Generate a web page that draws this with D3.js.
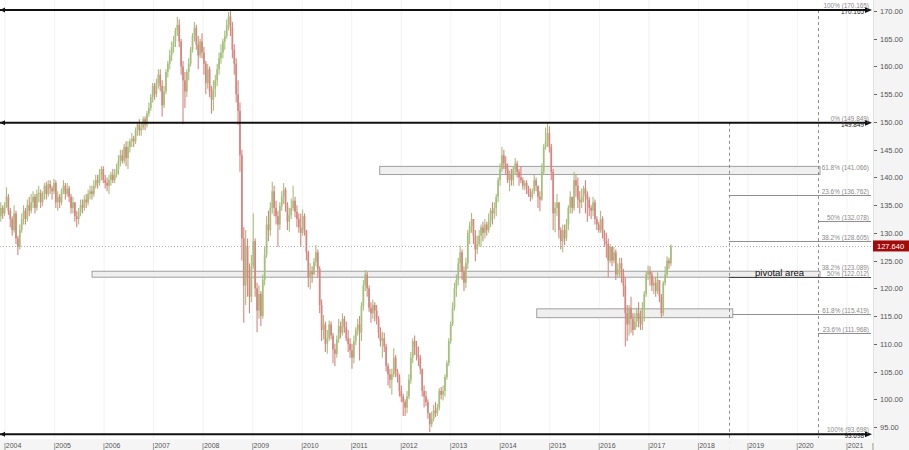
<!DOCTYPE html>
<html><head><meta charset="utf-8">
<script src="https://cdn.jsdelivr.net/npm/d3@7"></script>
<style>body{margin:0;background:#fff}svg{display:block}text{font-family:"Liberation Sans",Arial,sans-serif}</style>
</head><body><svg id="c" width="909" height="450"></svg>
<script>
// ---- DATA (EUR/JPY, two-week bars) ----
const startDate = "2003-12-01";
const periodDays = 14;
const firstOpen = 133.0;
const closes = [
134.5,133.5,134.8,136.5,134.0,132.5,130.5,133.5,129.0,127.5,130.5,132.5,134.0,
132.5,135.0,134.0,135.5,136.5,134.5,137.0,137.2,135.5,137.0,138.5,137.0,138.8,138.0,137.5,139.0,
135.5,136.5,135.5,137.5,138.5,137.0,138.0,136.5,134.5,135.5,133.0,132.5,133.8,135.0,
134.5,136.0,135.5,137.0,137.5,137.0,138.5,139.5,139.0,140.5,141.5,139.5,139.0,
138.5,139.5,140.5,139.5,140.5,141.5,143.0,144.0,143.0,145.5,143.5,145.5,146.5,
147.0,146.5,148.5,149.5,148.5,149.0,150.5,149.5,151.5,152.5,154.5,156.5,155.0,
157.0,158.5,156.5,153.0,155.5,159.0,160.5,162.0,163.5,164.5,166.5,167.5,
164.5,160.0,157.5,155.5,159.0,160.5,163.0,165.5,167.0,164.0,162.0,164.5,162.5,
160.5,157.0,159.5,155.5,154.0,156.0,157.5,159.5,161.5,162.5,164.5,165.5,167.5,169.0,167.0,163.0,160.5,
155.0,152.0,144.0,129.0,120.5,127.5,122.0,118.5,124.0,128.5,120.0,116.0,119.0,115.0,121.5,126.0,131.5,130.5,134.5,137.5,
134.5,133.0,131.5,134.8,136.5,137.8,135.0,132.0,133.2,134.5,135.8,133.8,132.5,131.0,130.0,
133.0,130.5,126.5,122.0,123.0,122.5,124.8,126.5,123.5,117.0,112.5,113.5,110.0,
111.0,113.5,111.5,109.0,108.2,110.8,113.2,112.0,114.5,113.0,111.0,110.0,108.8,
107.5,110.5,112.5,113.5,112.0,116.8,120.5,122.5,120.0,116.5,115.5,117.0,116.0,
114.5,112.0,110.5,111.0,109.5,106.0,104.5,103.5,104.5,107.5,105.0,104.0,101.5,100.5,
99.5,98.5,100.5,103.5,107.5,110.5,109.5,108.0,107.5,105.5,101.5,100.5,99.5,
97.5,95.5,96.5,98.0,97.5,98.5,101.5,100.8,101.5,104.0,106.5,110.5,113.5,
116.5,120.0,121.5,124.5,126.5,123.0,121.0,124.5,130.0,131.2,132.5,129.5,127.0,
128.0,129.5,131.0,130.0,131.5,130.5,132.0,134.0,133.5,134.5,136.5,139.5,141.5,144.0,
142.5,141.5,139.5,140.5,139.5,141.5,142.5,141.0,140.0,139.5,138.5,139.0,138.0,
137.0,136.5,137.5,139.5,138.5,136.5,136.0,141.0,145.5,146.5,148.0,145.5,
141.0,133.5,134.5,135.5,130.5,128.5,130.5,129.0,131.5,134.5,136.5,134.5,139.5,138.5,
136.0,135.5,136.5,138.0,137.0,136.0,134.5,134.0,135.5,132.5,131.5,130.5,132.5,
130.0,128.5,128.0,125.0,127.5,125.0,126.5,122.5,123.5,124.5,122.5,120.5,115.5,
113.5,116.5,114.5,112.5,114.0,115.5,114.5,113.5,116.5,119.0,122.5,123.0,
122.5,120.5,121.0,119.5,121.5,118.5,115.5,121.0,122.5,125.0,124.5,127.64
];
const highs = [
135.5,135.0,135.5,138.2,137.0,134.5,133.0,135.0,134.0,129.5,131.5,133.5,135.0,
134.5,136.0,136.5,137.0,137.5,137.0,137.8,138.5,137.8,137.5,139.0,139.2,139.5,139.5,138.5,139.7,
139.5,137.5,137.0,138.0,139.5,139.0,139.0,138.5,137.0,136.5,135.5,134.0,134.5,136.0,
136.0,136.8,137.0,137.8,138.5,138.5,139.5,140.5,140.5,141.5,142.0,142.0,140.5,
140.0,140.5,141.0,141.5,141.5,142.5,144.0,145.0,145.0,146.0,146.5,146.5,147.0,
148.0,147.5,149.0,150.0,150.5,150.0,151.0,151.0,152.0,153.5,155.0,157.0,157.0,
157.8,159.5,159.5,157.5,156.5,159.5,161.0,163.0,164.5,165.5,167.0,168.9,
168.5,165.0,161.0,159.0,159.5,161.5,163.5,166.0,168.0,167.5,165.5,165.0,166.0,
163.5,161.0,160.5,160.0,156.5,157.5,158.5,160.5,162.5,164.0,165.0,166.5,168.5,169.8,170.0,168.0,164.0,
161.5,157.5,153.5,145.0,131.0,130.5,129.0,124.5,126.0,133.5,129.0,121.0,120.5,119.5,122.5,127.5,133.0,134.0,135.5,139.2,
138.5,135.8,134.0,135.5,137.5,139.0,138.2,135.5,134.5,136.2,138.5,136.5,135.0,133.5,133.5,
134.2,133.5,130.5,126.8,124.5,124.0,125.5,127.8,127.0,124.0,118.0,115.2,114.0,
112.5,114.2,114.0,112.0,110.0,111.5,114.5,114.0,115.5,115.0,114.0,112.5,111.0,
110.0,111.5,113.0,114.5,115.0,117.5,121.5,123.3,123.0,120.5,117.5,118.0,117.5,
117.0,115.0,113.0,112.2,112.0,110.0,106.5,105.5,105.5,109.2,108.0,105.5,104.5,102.5,
101.0,100.0,101.5,104.5,108.5,111.0,111.5,110.5,109.5,108.0,105.5,102.5,101.5,
100.0,97.5,97.8,99.0,99.5,99.2,102.0,102.2,102.5,104.5,107.0,111.0,114.0,
117.5,121.0,122.5,125.5,127.7,127.0,124.0,125.5,130.5,132.0,133.6,132.5,130.5,
129.5,130.5,131.5,132.0,132.5,132.0,133.5,134.5,135.5,135.5,137.0,140.0,142.5,145.5,
145.0,143.8,142.5,141.2,141.5,142.0,143.5,143.0,141.5,142.0,140.0,139.5,139.5,
138.5,138.0,138.0,140.5,140.0,138.5,137.5,142.5,146.0,149.0,149.8,149.2,
146.0,141.5,135.5,137.0,135.5,131.0,131.5,131.5,132.5,135.0,137.5,136.5,141.0,140.5,
140.0,137.5,138.0,138.5,139.5,137.5,136.5,135.0,136.5,136.0,133.0,132.0,134.0,
133.0,130.5,130.0,129.0,128.0,127.5,127.5,127.0,124.5,125.5,125.5,123.5,122.0,
117.0,117.0,118.5,115.5,115.5,116.5,117.5,116.0,117.5,119.5,123.0,124.1,
124.0,123.0,122.0,122.0,122.9,121.5,119.0,121.3,124.0,125.8,125.5,127.9
];
const lows = [
132.0,132.5,133.0,134.5,133.2,131.0,129.5,130.0,128.0,126.0,127.0,130.0,131.5,
131.5,132.0,133.0,133.5,134.5,133.5,134.0,135.5,134.5,134.8,136.0,136.0,136.5,137.0,136.0,137.0,
134.5,134.0,134.5,135.0,137.0,136.0,136.5,135.5,133.5,133.5,132.0,131.0,131.5,133.0,
133.5,134.0,134.5,135.0,136.0,136.0,136.5,138.0,138.0,138.5,139.5,139.0,138.0,
137.5,137.0,138.5,139.0,139.0,140.0,140.5,142.0,142.5,142.5,142.0,141.5,144.5,
145.5,145.5,146.0,147.5,147.5,147.5,148.5,148.5,149.0,151.0,152.0,153.5,154.0,
154.5,156.0,155.5,151.0,152.5,155.0,158.0,159.5,161.0,162.5,163.5,165.5,
163.5,158.5,149.6,152.5,154.5,157.5,160.0,162.5,164.5,163.0,159.5,161.5,161.5,
158.5,155.0,156.0,154.5,151.5,152.0,154.5,156.5,158.5,160.5,161.5,163.0,165.0,166.5,165.5,161.5,158.5,
153.5,149.5,141.0,125.0,113.8,117.0,118.5,115.5,117.5,123.5,118.5,112.1,114.5,113.2,114.5,120.5,125.5,128.5,129.5,133.5,
133.0,131.5,127.5,130.5,134.0,135.2,133.8,130.5,130.2,132.5,134.0,132.8,131.0,130.0,127.5,
129.5,129.5,125.0,120.2,119.8,121.0,122.5,124.0,122.0,115.5,110.5,110.8,108.5,
108.2,110.5,110.8,106.5,106.0,107.5,110.2,111.0,111.5,112.0,110.5,108.5,107.5,
105.5,106.5,109.8,111.5,107.0,110.5,116.0,119.5,118.5,115.8,113.8,114.5,114.0,
113.5,111.0,109.5,107.5,108.5,105.0,102.5,102.0,100.8,104.0,104.0,103.0,100.5,99.5,
97.0,97.0,97.5,100.0,102.8,106.5,108.0,107.0,106.0,104.5,100.5,98.5,98.8,
96.5,94.1,95.0,96.0,96.8,97.0,98.0,100.0,99.8,100.5,103.5,106.0,110.0,
113.2,116.0,118.5,120.5,123.0,121.5,119.5,120.0,123.5,128.0,130.0,128.0,124.9,
126.2,127.5,127.5,128.5,129.0,129.5,130.0,131.0,131.5,132.5,133.0,135.5,138.5,141.0,
141.5,140.5,139.0,137.5,138.5,138.5,140.5,140.0,138.5,139.0,137.8,137.7,137.0,
136.5,135.7,136.0,137.0,137.5,134.5,133.9,135.8,140.5,145.0,145.5,144.5,
139.5,130.5,130.1,133.0,129.0,127.0,126.5,127.8,128.5,130.5,133.5,133.5,134.0,136.5,
134.5,133.5,134.5,135.5,133.5,132.0,133.0,132.5,133.0,131.5,130.5,130.0,130.0,
129.0,127.5,125.5,122.0,124.5,124.0,124.5,121.5,122.0,121.8,121.0,118.5,109.5,
110.5,111.5,112.0,111.5,112.5,113.0,113.0,112.5,112.5,114.0,118.5,121.5,
120.5,119.5,119.0,118.5,119.0,117.5,114.8,115.0,120.5,122.0,123.5,124.0
];
const yearTicks = [2004,2005,2006,2007,2008,2009,2010,2011,2012,2013,2014,2015,2016,2017,2018,2019,2020,2021];
const priceTicks = [95,100,105,110,115,120,125,130,135,140,145,150,155,160,165,170];
const lastPrice = 127.64;
const lastPriceLabel = "127.640";
// main swing levels
const swingValues = [170.165, 149.849, 93.698];
const swingPctLabels = ["100% (170.165)", "0% (149.849)", "100% (93.698)"];
const swingPriceLabels = ["170.165", "149.849", "93.698"];
// fibonacci levels
const fibValues = [141.066, 136.762, 132.078, 128.605, 123.089, 122.012, 115.419, 111.968];
const fibLabels = ["61.8% (141.066)", "23.6% (136.762)", "50% (132.078)", "38.2% (128.605)", "38.2% (123.089)", "50% (122.012)", "61.8% (115.419)", "23.6% (111.968)"];
const fibLineStart = [null, "2018-08-13", "2020-06-01", "2018-08-13", null, "2018-08-13", "2018-09-12", "2020-06-01"];
// shaded zones: start, end, top, bottom
const zoneStarts = ["2011-07-27", "2005-10-04", "2014-09-27"];
const zoneEnds = ["2020-06-16", "2020-06-16", "2018-09-12"];
const zoneTops = [142.0, 123.089, 116.3];
const zoneBottoms = [140.5, 122.012, 114.7];
const zoneNote = "pivotal area";
const verticalMarkers = ["2018-08-13", "2020-06-01"];

// ---- CHART ----
const W = 909, H = 450, plotR = 873, plotB = 438;
const svg = d3.select("#c");
const parse = d3.utcParse("%Y-%m-%d");
const x = d3.scaleUtc().domain([Date.UTC(2004,0,1), Date.UTC(2021,0,1)]).range([5, 847]);
const y = d3.scaleLinear().domain([95, 170]).range([427, 11]);
const t0 = parse(startDate);
const n = Math.min(closes.length, highs.length, lows.length);
const bars = d3.range(n).map(i => {
  const o = i === 0 ? firstOpen : closes[i-1];
  const c = closes[i];
  return {d: new Date(+t0 + i*periodDays*864e5), o, c, h: Math.max(highs[i], o, c), l: Math.min(lows[i], o, c)};
});

svg.append("rect").attr("width", W).attr("height", H).attr("fill", "#fff");
svg.append("defs").append("clipPath").attr("id", "pc").append("rect").attr("x", 0).attr("y", 0).attr("width", plotR).attr("height", H);
const g = svg.append("g").attr("clip-path", "url(#pc)");

// faint vertical grid
g.selectAll("line.vg").data(yearTicks).join("line")
  .attr("x1", d => x(Date.UTC(d,0,1))).attr("x2", d => x(Date.UTC(d,0,1)))
  .attr("y1", 0).attr("y2", plotB).attr("stroke", "#f2f2f2").attr("stroke-width", 1);

// zones
zoneStarts.forEach((s, i) => {
  g.append("rect").attr("x", x(parse(s))).attr("y", y(zoneTops[i]))
    .attr("width", x(parse(zoneEnds[i])) - x(parse(s)))
    .attr("height", y(zoneBottoms[i]) - y(zoneTops[i]))
    .attr("fill", "#ececec").attr("fill-opacity", 0.85).attr("stroke", "#8a8a8a").attr("stroke-width", 0.8);
});

// current price dotted line
g.append("line").attr("x1", 0).attr("x2", plotR).attr("y1", Math.round(y(lastPrice))+0.5).attr("y2", Math.round(y(lastPrice))+0.5)
  .attr("stroke", "#b0b0b0").attr("stroke-dasharray", "1,2");

// candles
const up = "#a5c07a", dn = "#d8857f";
const cg = g.append("g");
cg.selectAll("line").data(bars).join("line")
  .attr("x1", d => x(d.d)).attr("x2", d => x(d.d))
  .attr("y1", d => y(d.h)).attr("y2", d => y(d.l))
  .attr("stroke", d => d.c >= d.o ? up : dn).attr("stroke-width", 1.1);
cg.selectAll("rect").data(bars).join("rect")
  .attr("x", d => x(d.d) - 0.85).attr("width", 1.7)
  .attr("y", d => y(Math.max(d.o, d.c))).attr("height", d => Math.max(1, Math.abs(y(d.o) - y(d.c))))
  .attr("fill", d => d.c >= d.o ? up : dn);

// vertical dashed markers
verticalMarkers.forEach((m, i) => {
  const xm = Math.round(x(parse(m))) + 0.5;
  g.append("line").attr("x1", xm).attr("x2", xm)
    .attr("y1", y(swingValues[i === 0 ? 1 : 0])).attr("y2", i === 0 ? H : plotB)
    .attr("stroke", "#8c8c8c").attr("stroke-dasharray", "3,3").attr("stroke-width", 1);
});

// fib lines & labels
fibValues.forEach((v, i) => {
  const yy = Math.round(y(v)) + 0.5;
  if (fibLineStart[i]) {
    g.append("line").attr("x1", x(parse(fibLineStart[i]))).attr("x2", plotR - 2).attr("y1", yy).attr("y2", yy)
      .attr("stroke", i === 5 ? "#444" : "#8f8f8f").attr("stroke-width", i === 5 ? 1.2 : 1);
  }
  svg.append("text").attr("x", 869).attr("y", yy - 1.5).attr("text-anchor", "end")
    .attr("font-size", 6.4).attr("fill", "#8a8a8a").text(fibLabels[i]);
});

// zone note
svg.append("text").attr("x", 755).attr("y", y(zoneBottoms[1]) - 1).attr("font-size", 9.5)
  .attr("fill", "#111").text(zoneNote);

// swing lines
swingValues.forEach((v, i) => {
  const yy = y(v);
  svg.append("line").attr("x1", 0).attr("x2", 866).attr("y1", yy).attr("y2", yy).attr("stroke", "#111").attr("stroke-width", 2);
  svg.append("path").attr("d", `M0,${yy} L5,${yy-2.5} L5,${yy+2.5} Z`).attr("fill", "#111");
  svg.append("path").attr("d", `M872,${yy} L865,${yy-3} L865,${yy+3} Z`).attr("fill", "#111");
  svg.append("text").attr("x", 869).attr("y", yy - 2).attr("text-anchor", "end").attr("font-size", 6.4).attr("fill", "#8a8a8a").text(swingPctLabels[i]);
  svg.append("text").attr("x", 864).attr("y", yy + 4).attr("text-anchor", "end").attr("font-size", 6.4).attr("fill", "#222").text(swingPriceLabels[i]);
});

// right axis panel
svg.append("rect").attr("x", plotR).attr("y", 0).attr("width", W - plotR).attr("height", H).attr("fill", "#f4f4f4");
svg.append("line").attr("x1", plotR+0.5).attr("x2", plotR+0.5).attr("y1", 0).attr("y2", plotB).attr("stroke", "#e2e2e2");
const ya = svg.append("g");
priceTicks.forEach(p => {
  const yy = Math.round(y(p)) + 0.5;
  ya.append("line").attr("x1", plotR + 1).attr("x2", plotR + 4).attr("y1", yy).attr("y2", yy).attr("stroke", "#666");
  ya.append("text").attr("x", plotR + 7).attr("y", yy + 2.5).attr("font-size", 7.5).attr("fill", "#555").text(d3.format(".2f")(p));
});
// last price tag
const yl = y(lastPrice);
svg.append("rect").attr("x", plotR).attr("y", yl - 5.5).attr("width", W - plotR).attr("height", 11).attr("fill", "#a30a0a");
svg.append("text").attr("x", plotR + 4).attr("y", yl + 2.7).attr("font-size", 7.5).attr("fill", "#fff").text(lastPriceLabel);

// bottom axis panel
svg.append("rect").attr("x", 0).attr("y", plotB + 1).attr("width", plotR).attr("height", H - plotB).attr("fill", "#f4f4f4").attr("fill-opacity", 0.9);
yearTicks.forEach(yr => {
  const xx = x(Date.UTC(yr,0,1));
  svg.append("text").attr("x", xx - 1).attr("y", 447.5).attr("font-size", 7).attr("fill", "#555").text("|" + yr);
});
svg.append("text").attr("x", plotR - 1).attr("y", 447.5).attr("font-size", 7).attr("fill", "#555").text("|");
</script></body></html>
